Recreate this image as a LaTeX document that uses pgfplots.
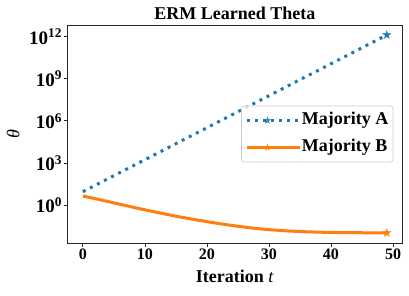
\documentclass[border=0pt]{standalone}
\usepackage{fontspec}
\setmainfont{Liberation Serif}
\usepackage{pgfplots}
\pgfplotsset{compat=1.18}
\definecolor{c0}{HTML}{1F77B4}
\definecolor{c1}{HTML}{FF7F0E}
\pgfdeclareplotmark{fstar}{%
  \pgfpathmoveto{\pgfpointpolar{90}{\pgfplotmarksize}}%
  \pgfpathlineto{\pgfpointpolar{126}{0.382\pgfplotmarksize}}%
  \pgfpathlineto{\pgfpointpolar{162}{\pgfplotmarksize}}%
  \pgfpathlineto{\pgfpointpolar{198}{0.382\pgfplotmarksize}}%
  \pgfpathlineto{\pgfpointpolar{234}{\pgfplotmarksize}}%
  \pgfpathlineto{\pgfpointpolar{270}{0.382\pgfplotmarksize}}%
  \pgfpathlineto{\pgfpointpolar{306}{\pgfplotmarksize}}%
  \pgfpathlineto{\pgfpointpolar{342}{0.382\pgfplotmarksize}}%
  \pgfpathlineto{\pgfpointpolar{18}{\pgfplotmarksize}}%
  \pgfpathlineto{\pgfpointpolar{54}{0.382\pgfplotmarksize}}%
  \pgfpathclose
  \pgfusepathqfillstroke}
\begin{document}
\begin{tikzpicture}
\begin{axis}[
  scale only axis, width=334.3pt, height=218pt,
  ymode=log,
  xmin=-2.45, xmax=51.45, ymin=1.95e-3, ymax=6.8e12,
  xtick={0,10,20,30,40,50},
  xticklabels={\textbf{0},\textbf{10},\textbf{20},\textbf{30},\textbf{40},\textbf{50}},
  ytick={1,1e3,1e6,1e9,1e12},
  yticklabels={\textbf{10}\textsuperscript{\textbf{0}},\textbf{10}\textsuperscript{\textbf{3}},\textbf{10}\textsuperscript{\textbf{6}},\textbf{10}\textsuperscript{\textbf{9}},\textbf{10}\textsuperscript{\textbf{12}}},
  xminorticks=false, yminorticks=false,
  tick align=outside, tick pos=left,
  major tick length=3.5pt,
  axis line style={line width=0.8pt, color=black!85},
  every tick/.style={line width=0.8pt, color=black!85},
  xticklabel style={font=\fontsize{16}{16}\selectfont, inner sep=2pt},
  yticklabel style={font=\fontsize{19}{19}\selectfont, inner sep=2pt},
  title={\textbf{ERM Learned Theta}},
  title style={font=\fontsize{18}{20}\selectfont, yshift=-4pt},
  xlabel={\textbf{Iteration} \textit{t}},
  xlabel style={font=\fontsize{18}{20}\selectfont, yshift=-5pt},
  ylabel={\textit{θ}},
  ylabel style={font=\fontsize{18}{20}\selectfont, yshift=4pt},
  legend cell align=left,
  legend style={at={(0.974,0.5)}, anchor=east, draw=black!20, line width=0.8pt, rounded corners=2.5pt,
    fill=white, fill opacity=0.8, text opacity=1, draw opacity=1,
    font=\fontsize{18}{20}\selectfont\bfseries,
    inner xsep=4.5pt, inner ysep=6pt, row sep=10pt,
    nodes={inner sep=0pt, text height=13pt, text depth=4pt}},
  legend image code/.code={%
    \path (0pt,0pt) -- (53pt,0pt);
    \draw[#1, mark repeat=2, mark phase=2, mark size=3pt] plot coordinates {(0pt,0pt) (20pt,0pt) (40pt,0pt)};},
]
\addplot[color=c0, line width=3pt, line cap=butt, dash pattern=on 3pt off 4.95pt,
  mark=fstar, mark size=4pt, mark repeat=100, mark phase=11, mark options={solid, line width=0.5pt}]
coordinates {
(0,8.91) (5,123) (10,1698) (15,2.34e4) (20,3.24e5) (25,4.47e6)
(30,6.17e7) (35,8.51e8) (40,1.17e10) (45,1.62e11) (49,1.32e12)
};
\addlegendentry{Majority A}
\addplot[color=c1, line width=3pt, mark=fstar, mark size=4pt, mark repeat=100, mark phase=17,
  mark options={solid, line width=0.5pt}]
coordinates {
(0,4.37) (3,2.24) (6,1.12) (9,0.562) (12,0.295) (15,0.158) (18,0.0912)
(21,0.0550) (24,0.0347) (27,0.0234) (30,0.0174) (33,0.0141) (36,0.0123)
(39,0.0112) (42,0.0107) (45,0.0105) (49,0.0102)
};
\addlegendentry{Majority B}
\end{axis}
\pgfresetboundingbox
\path[use as bounding box] ([shift={(-67.7pt,-52pt)}]current axis.south west) rectangle ([shift={(7pt,25pt)}]current axis.north east);
\end{tikzpicture}
\end{document}
